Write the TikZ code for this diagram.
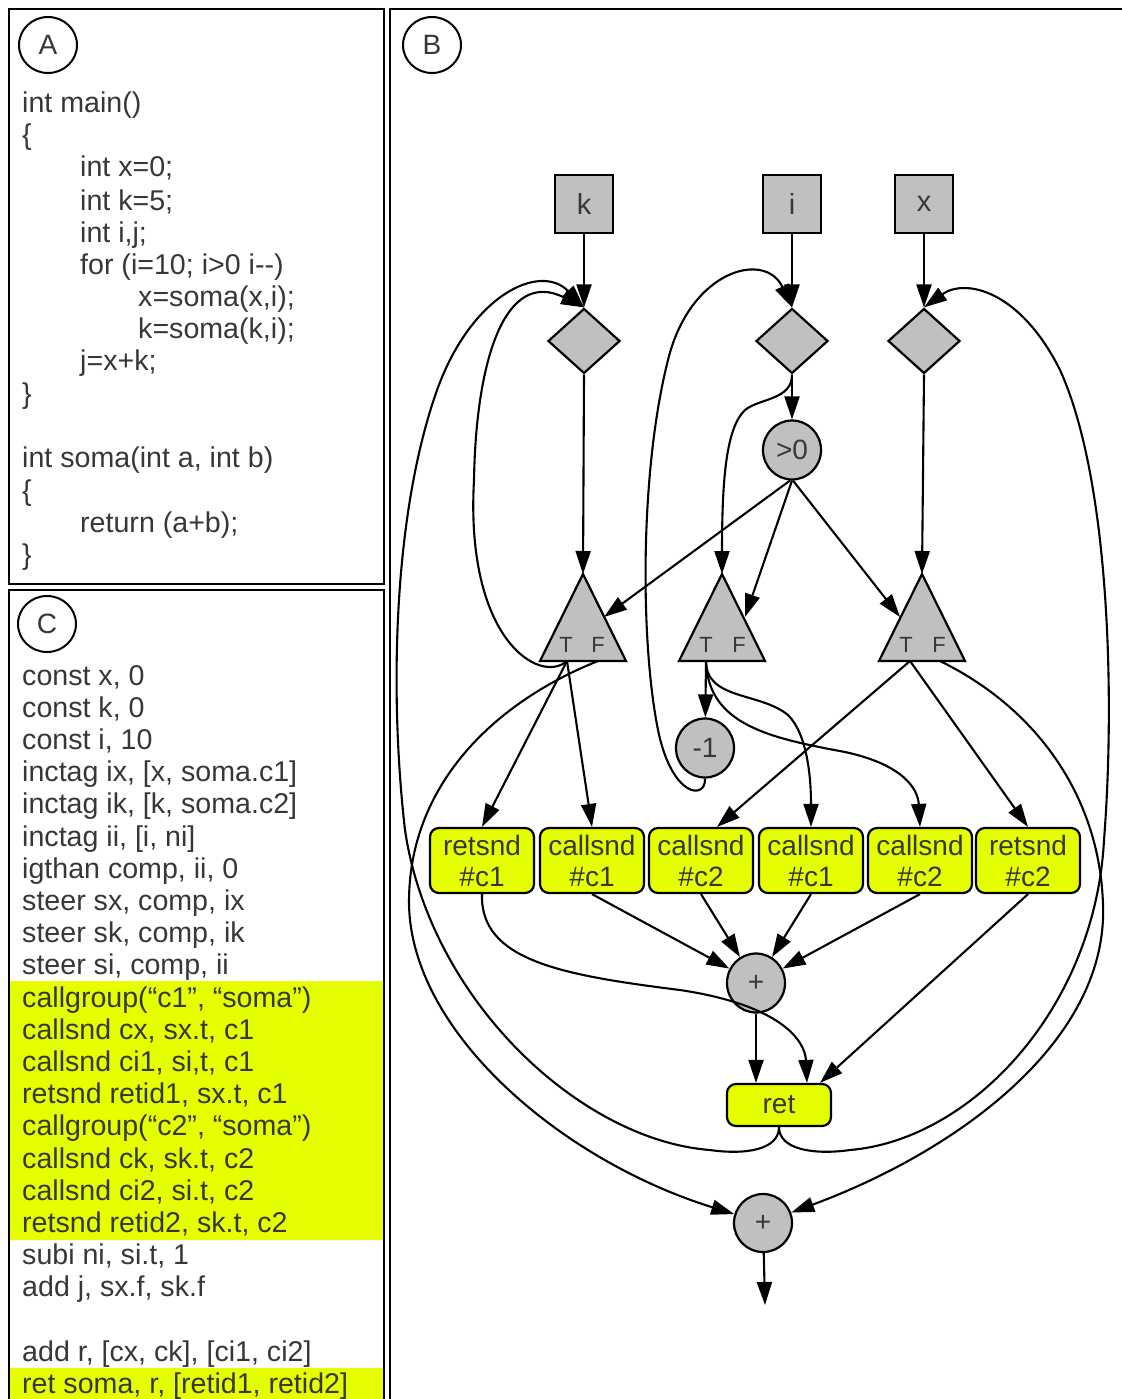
\documentclass[tikz,border=0pt]{standalone}
\usepackage{fontspec}
\setmainfont{Liberation Sans}
\usetikzlibrary{shapes.geometric,arrows.meta}
\definecolor{txt}{RGB}{55,55,55}
\definecolor{hl}{RGB}{230,255,0}
\definecolor{gr}{RGB}{192,192,192}

\begin{document}
\begin{tikzpicture}[x=1pt,y=-1pt,
  code/.style={anchor=base west, inner sep=0, text=txt, font=\fontsize{28.6}{32}\selectfont},
  panel/.style={draw=black, line width=2.4pt},
  tag/.style={draw, ellipse, line width=2pt, minimum width=58pt, minimum height=56pt, inner sep=0, text=txt, font=\fontsize{28}{32}\selectfont},
  var/.style={draw, fill=gr, line width=2.2pt, minimum width=58pt, minimum height=58pt, inner sep=0, text=txt, font=\fontsize{29}{32}\selectfont},
  merge/.style={draw, fill=gr, diamond, line width=2.2pt, minimum width=72pt, minimum height=65pt, inner sep=0},
  op/.style={draw, fill=gr, ellipse, line width=2.2pt, minimum width=58pt, minimum height=59pt, inner sep=0, text=txt, font=\fontsize{28}{32}\selectfont},
  call/.style={draw, fill=hl, rounded corners=9pt, line width=2.2pt, minimum width=104pt, minimum height=65pt, inner sep=0, align=center, text=txt, font=\fontsize{28}{31}\selectfont},
  steer/.style={draw, fill=gr, line width=2.2pt, line join=miter},
  tf/.style={inner sep=0, text=txt, font=\fontsize{22}{24}\selectfont},
  flow/.style={line width=2.1pt, -{Triangle[length=23pt,width=15pt]}}
]
\useasboundingbox (0,0) rectangle (1121,1399);

% ---------- panel A: source code ----------
\draw[panel] (9,9) rectangle (384,584);
\node[tag] (tagA) at (48,45) {A};
\node[code] (a1)  at (22,113) {int main()};
\node[code] (a2)  at (22,145) {\{};
\node[code] (a3)  at (80,177) {int x=0;};
\node[code] (a4)  at (80,210) {int k=5;};
\node[code] (a5)  at (80,242) {int i,j;};
\node[code] (a6)  at (80,274) {for (i=10; i>0 i-{}-)};
\node[code] (a7)  at (138,306) {x=soma(x,i);};
\node[code] (a8)  at (138,338) {k=soma(k,i);};
\node[code] (a9)  at (80,370) {j=x+k;};
\node[code] (a10) at (22,403) {\}};
\node[code] (a11) at (22,467) {int soma(int a, int b)};
\node[code] (a12) at (22,500) {\{};
\node[code] (a13) at (80,532) {return (a+b);};
\node[code] (a14) at (22,564) {\}};

% ---------- panel C: dataflow assembly ----------
\fill[hl] (10,981) rectangle (383,1240);
\fill[hl] (10,1368) rectangle (383,1399);
\draw[panel] (9,1405) -- (9,590) -- (384,590) -- (384,1405);
\node[tag] (tagC) at (47,624) {C};
\node[code] (c1)  at (22,685)    {const x, 0};
\node[code] (c2)  at (22,717.2)  {const k, 0};
\node[code] (c3)  at (22,749.4)  {const i, 10};
\node[code] (c4)  at (22,781.6)  {inctag ix, [x, soma.c1]};
\node[code] (c5)  at (22,813.8)  {inctag ik, [k, soma.c2]};
\node[code] (c6)  at (22,846)    {inctag ii, [i, ni]};
\node[code] (c7)  at (22,878.2)  {igthan comp, ii, 0};
\node[code] (c8)  at (22,910.4)  {steer sx, comp, ix};
\node[code] (c9)  at (22,942.6)  {steer sk, comp, ik};
\node[code] (c10) at (22,974.8)  {steer si, comp, ii};
\node[code] (c11) at (22,1007)   {callgroup(“c1”, “soma”)};
\node[code] (c12) at (22,1039.2) {callsnd cx, sx.t, c1};
\node[code] (c13) at (22,1071.4) {callsnd ci1, si,t, c1};
\node[code] (c14) at (22,1103.6) {retsnd retid1, sx.t, c1};
\node[code] (c15) at (22,1135.8) {callgroup(“c2”, “soma”)};
\node[code] (c16) at (22,1168)   {callsnd ck, sk.t, c2};
\node[code] (c17) at (22,1200.2) {callsnd ci2, si.t, c2};
\node[code] (c18) at (22,1232.4) {retsnd retid2, sk.t, c2};
\node[code] (c19) at (22,1264.6) {subi ni, si.t, 1};
\node[code] (c20) at (22,1296.8) {add j, sx.f, sk.f};
\node[code] (c21) at (22,1361.2) {add r, [cx, ck], [ci1, ci2]};
\node[code] (c22) at (22,1393.4) {ret soma, r, [retid1, retid2]};

% ---------- panel B: dataflow graph ----------
\draw[panel] (1125,9) -- (390,9) -- (390,1405);
\node[tag] (tagB) at (432,45) {B};

% inputs
\node[var] (k) at (584,204) {k};
\node[var] (i) at (792,204) {i};
\node[var] (x) at (924,204) {x};

% merges
\node[merge] (kd) at (584,341) {};
\node[merge] (id) at (792,341) {};
\node[merge] (xd) at (924,341) {};

% comparison
\node[op] (gt) at (792,450) {>0};

% steers
\draw[steer] (540,661) -- (583,574) -- (626,661) -- cycle;
\draw[steer] (679,661) -- (722,574) -- (765,661) -- cycle;
\draw[steer] (879,661) -- (922,574) -- (965,661) -- cycle;
\node[tf] (kTl) at (566,645) {T};
\node[tf] (kFl) at (598,645) {F};
\node[tf] (iTl) at (706,645) {T};
\node[tf] (iFl) at (739,645) {F};
\node[tf] (xTl) at (906,645) {T};
\node[tf] (xFl) at (939,645) {F};
\coordinate (kapex) at (583,574);
\coordinate (iapex) at (722,574);
\coordinate (xapex) at (922,574);
\coordinate (kR) at (604,617);
\coordinate (iR) at (745,617);
\coordinate (xL) at (900,617);
\coordinate (kT) at (567,661);
\coordinate (kF) at (598,661);
\coordinate (iT) at (706,661);
\coordinate (xT) at (910,661);
\coordinate (xF) at (940,661);

% decrement
\node[op] (m1) at (705,748) {-1};

% call / return senders
\node[call] (r1) at (482,860.5) {retsnd\\\#c1};
\node[call] (s1) at (592,860.5) {callsnd\\\#c1};
\node[call] (s2) at (701,860.5) {callsnd\\\#c2};
\node[call] (s3) at (811,860.5) {callsnd\\\#c1};
\node[call] (s4) at (920,860.5) {callsnd\\\#c2};
\node[call] (r2) at (1028,860.5) {retsnd\\\#c2};

% adders and return
\node[op, font=\fontsize{28}{30}\selectfont] (p1) at (756,983) {+};
\node[call, minimum height=42pt] (ret) at (779,1105) {ret};
\node[op, font=\fontsize{28}{30}\selectfont, minimum height=58pt] (p2) at (763,1223) {+};
\coordinate (out) at (765,1305);

% ----- connectors -----
\draw[flow] (k) -- (kd.north);
\draw[flow] (i) -- (id.north);
\draw[flow] (x) -- (xd.north);
\draw[flow] (kd.south) -- (kapex);
\draw[flow] (xd.south) -- (xapex);
\draw[flow] (id.south) -- (gt);
\draw[flow] (id.south) .. controls (792,400) and (760,398) .. (745,410)
  .. controls (726,428) and (722,480) .. (iapex);
\draw[flow] ([xshift=-2pt]gt.south) -- (kR);
\draw[flow] (gt.south) -- (iR);
\draw[flow] ([xshift=1pt]gt.south) -- (xL);

% k steer outputs
\draw[flow] (kT) -- (r1.north);
\draw[flow] (kT) -- (s1.north);
\draw[flow] (kT) .. controls (540,685) and (465,640) .. (474,480)
  .. controls (476,360) and (505,268) .. (kd.north);
\draw[flow] (kF) .. controls (500,700) and (410,780) .. (409,900)
  .. controls (408,1030) and (560,1160) .. (p2);

% i steer outputs
\draw[flow] (iT) -- (m1);
\draw[flow] (iT) .. controls (706,700) and (760,692) .. (788,715)
  .. controls (808,735) and (811,780) .. (s3.north);
\draw[flow] (iT) .. controls (708,725) and (770,738) .. (845,752)
  .. controls (905,765) and (918,790) .. (s4.north);
\draw[flow] (m1.south) .. controls (706,800) and (672,798) .. (658,730)
  .. controls (640,640) and (640,470) .. (668,360)
  .. controls (690,270) and (765,250) .. (id.north);

% x steer outputs
\draw[flow] (xT) -- ([xshift=16pt]s2.north);
\draw[flow] (xT) -- (r2.north);
\draw[flow] (xF) .. controls (1040,710) and (1100,800) .. (1103,905)
  .. controls (1108,1040) and (960,1150) .. (p2);

% into the adder
\draw[flow] (s1.south) -- (p1);
\draw[flow] (s2.south) -- (p1);
\draw[flow] (s3.south) -- (p1);
\draw[flow] (s4.south) -- (p1);

% into the return
\draw[flow] (p1.south) -- (p1.south |- ret.north);
\draw[flow] (r1.south) .. controls (480,960) and (560,975) .. (680,990)
  .. controls (780,1005) and (805,1040) .. ([xshift=28pt]ret.north);
\draw[flow] (r2.south) -- ([xshift=41pt]ret.north);

% return values fed back to the merges
\draw[flow] (ret.south) .. controls (779,1150) and (745,1155) .. (710,1150)
  .. controls (580,1140) and (430,1000) .. (405,830)
  .. controls (390,700) and (392,520) .. (436,393)
  .. controls (470,295) and (540,262) .. (kd.north);
\draw[flow] (ret.south) .. controls (779,1150) and (815,1155) .. (850,1150)
  .. controls (970,1140) and (1095,1010) .. (1104,840)
  .. controls (1115,700) and (1110,480) .. (1060,370)
  .. controls (1020,290) and (965,278) .. (xd.north);

% final result
\draw[flow] (p2) -- (out);
\end{tikzpicture}
\end{document}
